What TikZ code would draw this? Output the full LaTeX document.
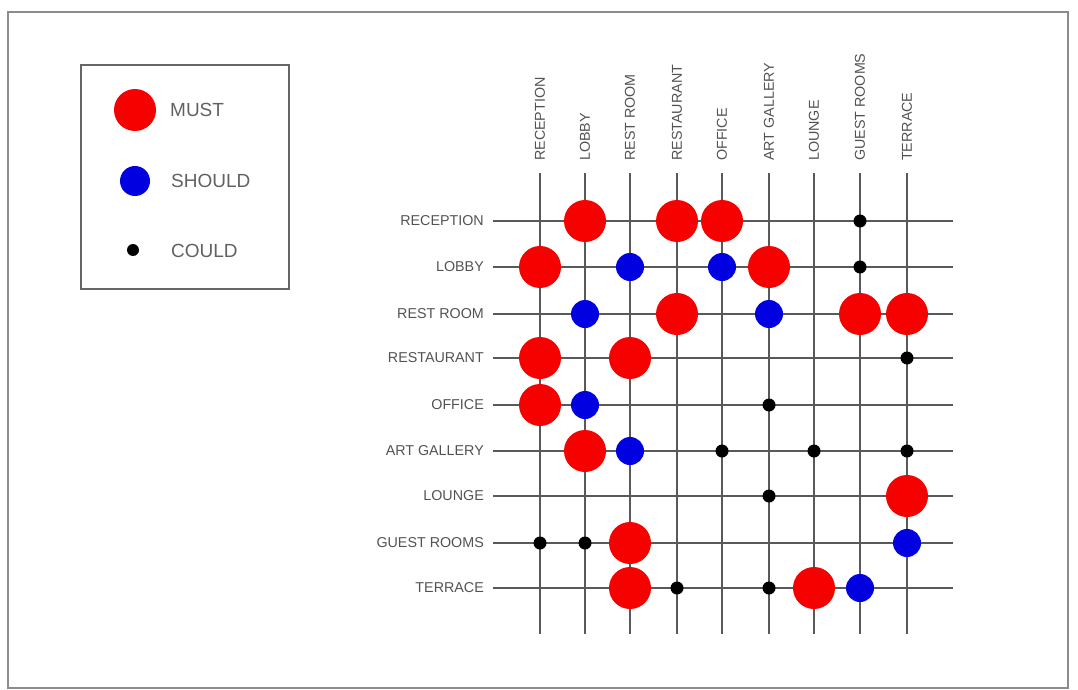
\documentclass[tikz,border=0pt]{standalone}
\usepackage{fontspec}
\setmainfont{Liberation Sans}
\begin{document}
\begin{tikzpicture}[x=1pt,y=-1pt,
  lbl/.style={font=\fontsize{14.3}{14.3}\selectfont, text=black!68, inner sep=0pt},
  leglbl/.style={font=\fontsize{19}{19}\selectfont, text=black!62, inner sep=0pt, anchor=west},
  gridline/.style={draw=black!65, line width=1.3pt},
  must/.style={fill=red!97!black},
  should/.style={fill=blue!88!black},
  could/.style={fill=black}]
\useasboundingbox (0,0) rectangle (1078,690);
\draw[black!45, line width=1.2pt] (8,12) rectangle (1068,688);
% legend
\draw[black!60, line width=1.2pt] (81,65) rectangle (289,289);
\fill[must] (135,110) circle (21);
\fill[should] (135,181) circle (15);
\fill[could] (133,250) circle (6);
\node[leglbl] (lmust) at (170,110) {MUST};
\node[leglbl] (lshould) at (171,181) {SHOULD};
\node[leglbl] (lcould) at (171,251) {COULD};
% grid
\foreach \x/\t [count=\i] in {540/RECEPTION,585/LOBBY,630/REST ROOM,677/RESTAURANT,722/OFFICE,769/ART GALLERY,814/LOUNGE,860/GUEST ROOMS,907/TERRACE}{
  \draw[gridline] (\x,173) -- (\x,634);
  \node[lbl, rotate=90, anchor=west] (c\i) at (\x,161) {\t};
}
\foreach \y/\t [count=\i] in {221/RECEPTION,267/LOBBY,314/REST ROOM,358/RESTAURANT,405/OFFICE,451/ART GALLERY,496/LOUNGE,543/GUEST ROOMS,588/TERRACE}{
  \draw[gridline] (493,\y) -- (953,\y);
  \node[lbl, anchor=east] (r\i) at (484,\y) {\t};
}
% MUST
\foreach \x/\y in {585/221,677/221,722/221,540/267,769/267,677/314,860/314,907/314,540/358,630/358,540/405,585/451,907/496,630/543,630/588,814/588}
  \fill[must] (\x,\y) circle (21);
% SHOULD
\foreach \x/\y in {630/267,722/267,585/314,769/314,585/405,630/451,907/543,860/588}
  \fill[should] (\x,\y) circle (14);
% COULD
\foreach \x/\y in {860/221,860/267,907/358,769/405,722/451,814/451,907/451,769/496,540/543,585/543,677/588,769/588}
  \fill[could] (\x,\y) circle (6.5);
\end{tikzpicture}
\end{document}
